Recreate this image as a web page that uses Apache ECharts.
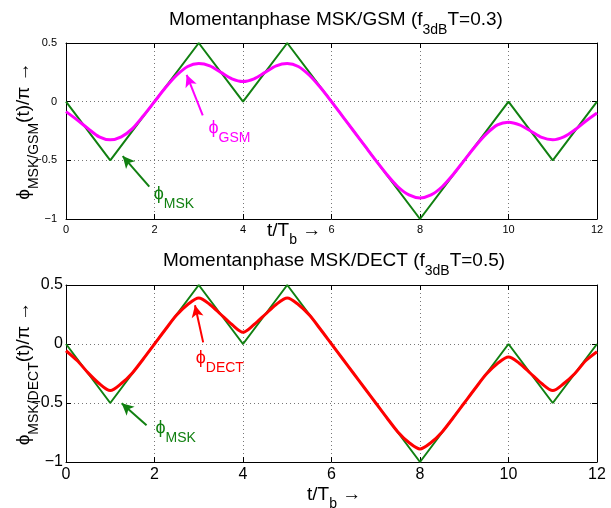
<!DOCTYPE html>
<html>
<head>
<meta charset="utf-8">
<script src="https://cdn.jsdelivr.net/npm/echarts@6/dist/echarts.min.js"></script>
<style>
html,body{margin:0;padding:0;background:#fff;}
#chart{width:611px;height:508px;}
</style>
</head>
<body>
<div id="chart"></div>
<script>
// ---- data ----
const mskTimes = [0,1,2,3,4,5,6,7,8,9,10,11,12];
const mskPhase = [0,-0.5,0,0.5,0,0.5,0,-0.5,-1,-0.5,0,-0.5,0];
const smoothTimes = [0,0.25,0.5,0.75,1,1.25,1.5,1.75,2,2.25,2.5,2.75,3,3.25,3.5,3.75,4,4.25,4.5,4.75,5,5.25,5.5,5.75,6,6.25,6.5,6.75,7,7.25,7.5,7.75,8,8.25,8.5,8.75,9,9.25,9.5,9.75,10,10.25,10.5,10.75,11,11.25,11.5,11.75,12];
const gsmPhase = [-0.085,-0.155,-0.23,-0.30,-0.325,-0.30,-0.23,-0.12,0.0,0.12,0.225,0.30,0.325,0.305,0.25,0.195,0.172,0.195,0.25,0.305,0.325,0.30,0.225,0.12,0.0,-0.125,-0.25,-0.375,-0.5,-0.62,-0.725,-0.795,-0.82,-0.795,-0.725,-0.62,-0.5,-0.38,-0.275,-0.198,-0.175,-0.198,-0.25,-0.305,-0.325,-0.30,-0.24,-0.165,-0.097];
const dectPhase = [-0.057,-0.14,-0.245,-0.335,-0.395,-0.335,-0.245,-0.125,0.0,0.125,0.245,0.335,0.39,0.335,0.25,0.165,0.10,0.165,0.25,0.335,0.39,0.335,0.245,0.125,0.0,-0.125,-0.25,-0.375,-0.5,-0.625,-0.745,-0.835,-0.89,-0.835,-0.745,-0.625,-0.5,-0.375,-0.255,-0.165,-0.11,-0.165,-0.25,-0.335,-0.395,-0.335,-0.25,-0.14,-0.065];
const xTicks = [0,2,4,6,8,10,12];
const yTicks = [-1,-0.5,0,0.5];
const titles = ['Momentanphase MSK/GSM (f', 'Momentanphase MSK/DECT (f'];
const titleSubs = ['3dB','3dB'];
const titleTails = ['T=0.3)','T=0.5)'];
// annotation anchors in data units [t, phase]
const gsmArrow = [[3.09,-0.116],[2.727,0.229]];
const gsmLabel = [3.21,-0.226];
const mskArrowTop = [[1.882,-0.724],[1.281,-0.464]];
const mskLabelTop = [1.97,-0.786];
const dectArrow = [[3.10,0.0135],[2.915,0.329]];
const dectLabel = [2.92,-0.12];
const mskArrowBot = [[1.82,-0.689],[1.258,-0.502]];
const mskLabelBot = [2.01,-0.716];

const GREEN = '#118011', MAGENTA = '#ff00ff', RED = '#ff0000';
const FONT = 'Liberation Sans, Arial, Helvetica, sans-serif';
const PHI = '\u03d5';

function zip(a,b){ return a.map((v,i)=>[v,b[i]]); }
function fmtY(v){ return v < 0 ? '\u2212' + Math.abs(v) : String(v); }

// main tokens sit at the top of the line; the subscript sits at the bottom of a taller line,
// so its centre is `off` px below the main text centre
function subRich(main, sub, color, off){
  const L = main / 2 + sub / 2 + off;
  return {
    p: {fontFamily: FONT, fontSize: main, fontWeight: 'normal', color: color, verticalAlign: 'top', lineHeight: main + 2},
    g: {fontFamily: 'Liberation Sans, DejaVu Sans, sans-serif', fontSize: main, fontWeight: 'normal', color: color, verticalAlign: 'top', lineHeight: main + 2},
    s: {fontFamily: FONT, fontSize: sub, fontWeight: 'normal', color: color, verticalAlign: 'bottom', lineHeight: L},
  };
}

const grids = [
  {left: 66, right: 14, top: 43, height: 176, outerBoundsMode: 'none', containLabel: false},
  {left: 66, right: 14, top: 285, height: 177, outerBoundsMode: 'none', containLabel: false}
];

function mkX(gi, pos, fs, margin){
  const primary = pos === 'bottom';
  return {
    type: 'value', gridIndex: gi, position: pos, min: 0, max: 12, interval: 2,
    axisLine: {show: true, onZero: false, lineStyle: {color: '#000', width: 1}},
    axisTick: {show: true, inside: true, length: 5, lineStyle: {color: '#000'}},
    axisLabel: {show: primary, fontFamily: FONT, fontSize: fs, color: '#000', margin: margin},
    splitLine: {show: primary, lineStyle: {color: '#777', type: [1,3], width: 1}},
  };
}
function mkY(gi, pos, fs, margin, name, nameRich, gap){
  const primary = pos === 'left';
  const o = {
    type: 'value', gridIndex: gi, position: pos, min: -1, max: 0.5, interval: 0.5,
    axisLine: {show: true, onZero: false, lineStyle: {color: '#000', width: 1}},
    axisTick: {show: true, inside: true, length: 5, lineStyle: {color: '#000'}},
    axisLabel: {show: primary, fontFamily: FONT, fontSize: fs, color: '#000', margin: margin, formatter: fmtY},
    splitLine: {show: primary, lineStyle: {color: '#777', type: [1,3], width: 1}},
  };
  if (name) {
    o.name = name; o.nameLocation = 'middle'; o.nameRotate = 90; o.nameGap = gap;
    o.nameMoveOverlap = false;
    o.nameTextStyle = {rich: nameRich};
  }
  return o;
}

function arrowLine(pts, color){
  return {
    silent: true, symbol: ['none','arrow'], symbolSize: [9,12], animation: false,
    lineStyle: {color: color, width: 2, type: 'solid'},
    label: {show: false}, emphasis: {disabled: true},
    data: [[{coord: pts[0]}, {coord: pts[1]}]]
  };
}
function textPoint(pos, sub, color){
  return {
    silent: true, animation: false,
    data: [{
      coord: pos, symbol: 'circle', symbolSize: 1, itemStyle: {color: 'rgba(0,0,0,0)'},
      label: {show: true, position: 'right', distance: 0, offset: [0, 4],
        formatter: '{g|' + PHI + '}{s|' + sub + '}',
        rich: subRich(18, 14, color, 10)}
    }]
  };
}

const chart = echarts.init(document.getElementById('chart'), null, {renderer: 'canvas'});
const option = {
  animation: false,
  backgroundColor: '#fff',
  title: [
    {text: '{p|' + titles[0] + '}{s|' + titleSubs[0] + '}{p|' + titleTails[0] + '}', left: 331, top: 5, textAlign: 'center',
     textStyle: {fontWeight: 'normal', rich: subRich(19, 14, '#000', 11)}},
    {text: '{p|' + titles[1] + '}{s|' + titleSubs[1] + '}{p|' + titleTails[1] + '}', left: 329, top: 246, textAlign: 'center',
     textStyle: {fontWeight: 'normal', rich: subRich(19, 14, '#000', 11)}},
    {text: '{p|t/T}{s|b}{p| \u2192}', left: 262, top: 216, textStyle: {fontWeight: 'normal', rich: subRich(19, 14, '#000', 10)}},
    {text: '{p|t/T}{s|b}{p| \u2192}', left: 302, top: 480, textStyle: {fontWeight: 'normal', rich: subRich(19, 14, '#000', 10)}}
  ],
  grid: grids,
  xAxis: [mkX(0,'bottom',11,5), mkX(0,'top',11,5), mkX(1,'bottom',16,5), mkX(1,'top',16,5)],
  yAxis: [
    mkY(0,'left',11,9,'{g|' + PHI + '}{s|MSK/GSM}{p|(t)/\u03c0 \u2192}', subRich(19,14,'#000',10), 25),
    mkY(0,'right',11,9),
    mkY(1,'left',16,3,'{g|' + PHI + '}{s|MSK/DECT}{p|(t)/\u03c0 \u2192}', subRich(19,14,'#000',10), 25),
    mkY(1,'right',16,3)
  ],
  series: [
    {type: 'line', xAxisIndex: 0, yAxisIndex: 0, data: zip(mskTimes, mskPhase), showSymbol: false,
     lineStyle: {color: GREEN, width: 2}, itemStyle: {color: GREEN}, z: 2,
     markLine: arrowLine(mskArrowTop, GREEN), markPoint: textPoint(mskLabelTop, 'MSK', GREEN)},
    {type: 'line', xAxisIndex: 0, yAxisIndex: 0, data: zip(smoothTimes, gsmPhase), showSymbol: false, smooth: 0.3,
     lineStyle: {color: MAGENTA, width: 3}, itemStyle: {color: MAGENTA}, z: 3,
     markLine: arrowLine(gsmArrow, MAGENTA), markPoint: textPoint(gsmLabel, 'GSM', MAGENTA)},
    {type: 'line', xAxisIndex: 2, yAxisIndex: 2, data: zip(mskTimes, mskPhase), showSymbol: false,
     lineStyle: {color: GREEN, width: 2}, itemStyle: {color: GREEN}, z: 2,
     markLine: arrowLine(mskArrowBot, GREEN), markPoint: textPoint(mskLabelBot, 'MSK', GREEN)},
    {type: 'line', xAxisIndex: 2, yAxisIndex: 2, data: zip(smoothTimes, dectPhase), showSymbol: false, smooth: 0.3,
     lineStyle: {color: RED, width: 3}, itemStyle: {color: RED}, z: 3,
     markLine: arrowLine(dectArrow, RED), markPoint: textPoint(dectLabel, 'DECT', RED)}
  ]
};
chart.setOption(option);
</script>
</body>
</html>
